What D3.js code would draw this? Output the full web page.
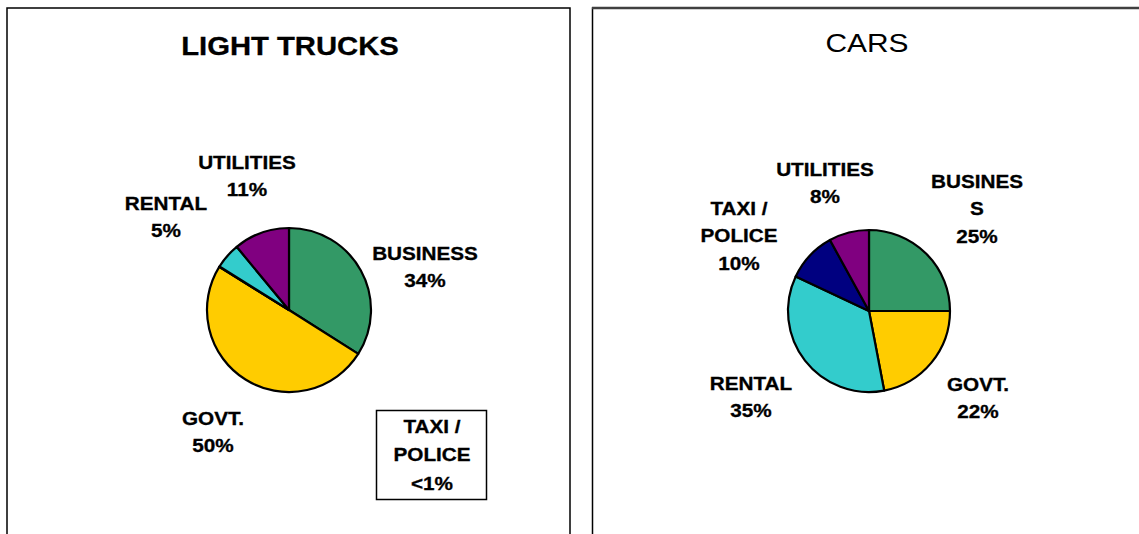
<!DOCTYPE html>
<html>
<head>
<meta charset="utf-8">
<script src="https://cdn.jsdelivr.net/npm/d3@7"></script>
<style>
  html, body { margin: 0; padding: 0; background: #fff; }
  svg { display: block; }
  text { font-family: "Liberation Sans", Arial, sans-serif; fill: #000; }
</style>
</head>
<body>
<script>
// chart data (slices run clockwise from 12 o'clock)
const truckCats = ['BUSINESS', 'GOVT.', 'TAXI / POLICE', 'RENTAL', 'UTILITIES']
const truckValues = [34, 49.8, 0.1, 5.1, 11]
const truckLabels = ['34%', '50%', '<1%', '5%', '11%']
const carCats = ['BUSINESS', 'GOVT.', 'RENTAL', 'TAXI / POLICE', 'UTILITIES']
const carValues = [25, 22, 35, 10, 8]
const carLabels = ['25%', '22%', '35%', '10%', '8%']

const colorOf = {
  'BUSINESS': '#339966',
  'GOVT.': '#ffcc00',
  'TAXI / POLICE': '#000080',
  'RENTAL': '#33cccc',
  'UTILITIES': '#800080'
}

const width = 1139
const height = 534
const sx = 1.15 // text in the original is stretched horizontally

const svg = d3.select('body').append('svg')
  .attr('width', width)
  .attr('height', height)

// panel frames
svg.append('rect')
  .attr('x', 7).attr('y', 8).attr('width', 563).attr('height', 600)
  .attr('fill', 'none').attr('stroke', '#000').attr('stroke-width', 1.5)
svg.append('rect')
  .attr('x', 592.5).attr('y', 8).attr('width', 700).attr('height', 600)
  .attr('fill', 'none').attr('stroke', '#000').attr('stroke-width', 1.5)
svg.append('line')
  .attr('x1', 592).attr('x2', width).attr('y1', 8).attr('y2', 8)
  .attr('stroke', '#404040').attr('stroke-width', 2.5)

function stretchedText (g, x, y, lines, opts) {
  const t = g.append('text')
    .attr('transform', `translate(${x},${y}) scale(${opts.sx || sx},1)`)
    .attr('text-anchor', 'middle')
    .style('font-size', opts.size + 'px')
    .style('font-weight', opts.weight || 'bold')
    .style('stroke', opts.weight === 'normal' ? 'none' : '#000')
    .style('stroke-width', 0.3)
  lines.forEach((s, i) => {
    t.append('tspan').attr('x', 0).attr('y', i * (opts.lh || 27.5)).text(s)
  })
  return t
}

function drawPie (cx, cy, r, cats, values) {
  const pie = d3.pie().sort(null).value(d => d)
  const arc = d3.arc().innerRadius(0).outerRadius(r)
  svg.append('g')
    .attr('transform', `translate(${cx},${cy})`)
    .selectAll('path')
    .data(pie(values))
    .join('path')
    .attr('d', arc)
    .attr('fill', (d, i) => colorOf[cats[i]])
    .attr('stroke', '#000')
    .attr('stroke-width', 2.2)
    .attr('stroke-linejoin', 'round')
}

// LIGHT TRUCKS
stretchedText(svg, 290, 55, ['LIGHT TRUCKS'], { size: 25, sx: 1.17 })
drawPie(289, 310, 82, truckCats, truckValues)

const truckPos = [[425, 260], [213, 425], null, [166, 210], [247, 169]]
truckCats.forEach((c, i) => {
  if (!truckPos[i]) return
  stretchedText(svg, truckPos[i][0], truckPos[i][1], [c, truckLabels[i]], { size: 18 })
})
// taxi / police callout box
svg.append('rect')
  .attr('x', 376.5).attr('y', 410.5).attr('width', 110).attr('height', 89)
  .attr('fill', '#fff').attr('stroke', '#000').attr('stroke-width', 1.5)
stretchedText(svg, 432, 433, ['TAXI /', 'POLICE', truckLabels[2]], { size: 18, lh: 28.5 })

// CARS
stretchedText(svg, 867, 52, ['CARS'], { size: 26, weight: 'normal' })
drawPie(869, 311, 81, carCats, carValues)

const carPos = [[977, 188], [978, 391], [751, 390], [739, 215], [825, 176]]
const carLines = [['BUSINES', 'S'], ['GOVT.'], ['RENTAL'], ['TAXI /', 'POLICE'], ['UTILITIES']]
carCats.forEach((c, i) => {
  stretchedText(svg, carPos[i][0], carPos[i][1], carLines[i].concat(carLabels[i]), { size: 18 })
})
</script>
</body>
</html>
